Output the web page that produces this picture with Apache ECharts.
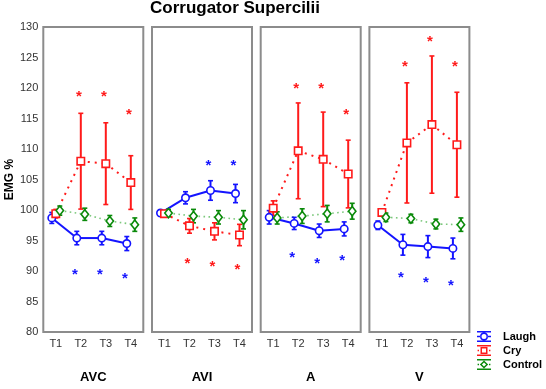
<!DOCTYPE html>
<html><head><meta charset="utf-8">
<script src="https://cdn.jsdelivr.net/npm/echarts@6/dist/echarts.min.js"></script>
<style>html,body{margin:0;padding:0;background:#fff}#c{width:546px;height:389px}</style>
</head><body><div id="c"></div>
<script>
// ---------- data ----------
const panels = ['AVC', 'AVI', 'A', 'V'];
const timepoints = ['T1', 'T2', 'T3', 'T4'];
const yTickMin = 80, yTickMax = 130, yTickStep = 5;
const groupNames = ['Laugh', 'Cry', 'Control'];

// means per panel (AVC, AVI, A, V) x timepoint (T1..T4)
const laughMean = [[98.7, 95.4, 95.4, 94.5], [99.5, 102.0, 103.2, 102.7], [98.8, 97.8, 96.6, 96.9], [97.5, 94.3, 94.0, 93.7]];
const laughErr  = [[0.9, 1.1, 1.1, 1.15], [0.5, 1.0, 1.6, 1.5], [1.1, 1.0, 1.1, 1.15], [0.7, 1.7, 1.8, 1.7]];
const cryMean   = [[99.4, 108.0, 107.6, 104.5], [99.4, 97.4, 96.5, 95.9], [100.3, 109.7, 108.3, 105.9], [99.6, 111.0, 114.0, 110.7]];
const cryErr    = [[0.7, 7.85, 6.7, 4.4], [0.5, 1.2, 1.4, 1.75], [1.2, 7.85, 7.75, 5.55], [0.6, 9.85, 11.25, 8.6]];
const controlMean = [[99.9, 99.3, 98.2, 97.6], [99.5, 99.0, 98.8, 98.4], [98.7, 99.0, 99.4, 99.8], [98.8, 98.6, 97.7, 97.6]];
const controlErr  = [[0.75, 1.0, 0.9, 1.1], [0.6, 1.1, 1.1, 1.5], [1.0, 1.2, 1.35, 1.3], [0.7, 0.7, 0.8, 1.1]];

// significance asterisk positions (value level), null = none
const laughStars = [[null, 89.8, 89.8, 89.2], [null, null, 107.7, 107.7], [null, 92.6, 91.7, 92.2], [null, 89.4, 88.6, 88.1]];
const cryStars   = [[null, 119.1, 119.1, 116.1], [null, 91.7, 91.2, 90.6], [null, 120.3, 120.3, 116.1], [null, 123.9, 128.0, 123.9]];

// ---------- styles ----------
const FONT = '"Liberation Sans", Arial, Helvetica, sans-serif';
const BLUE = '#1414ff', RED = '#ff1a1a', GREEN = '#0a8a0a';
const styles = {
  Laugh:   { color: BLUE,  lineColor: BLUE, lineWidth: 2, lineDash: null, offset: -4, marker: 'circle' },
  Cry:     { color: RED,   lineColor: RED, lineWidth: 2, lineDash: [2, 5], offset: 0, marker: 'square' },
  Control: { color: GREEN, lineColor: '#7cc87c', lineWidth: 1.6, lineDash: [1.6, 3.4], offset: 4, marker: 'diamond' }
};
const starStyles = { Laugh: { color: BLUE, offset: -6 }, Cry: { color: RED, offset: -2 } };

const gridLeft0 = 43.3, gridStep = 108.7, gridW = 100, gridTop = 27, gridH = 309;

const meansBy = { Laugh: laughMean, Cry: cryMean, Control: controlMean };
const errsBy = { Laugh: laughErr, Cry: cryErr, Control: controlErr };
const starsBy = { Laugh: laughStars, Cry: cryStars };

function markerShape(kind, cx, cy, color) {
  const st = { fill: '#fff', stroke: color, lineWidth: 1.6 };
  if (kind === 'circle') return { type: 'circle', shape: { cx, cy, r: 3.7 }, style: st, z2: 10 };
  if (kind === 'square') return { type: 'rect', shape: { x: cx - 3.7, y: cy - 3.7, width: 7.4, height: 7.4 }, style: st, z2: 10 };
  return { type: 'polygon', shape: { points: [[cx, cy - 4.6], [cx + 3.7, cy], [cx, cy + 4.6], [cx - 3.7, cy]] }, style: st, z2: 10 };
}

function groupSeries(name, k) {
  const s = styles[name];
  const means = meansBy[name][k];
  const errs = errsBy[name][k];
  return {
    type: 'custom', name, coordinateSystem: 'cartesian2d',
    xAxisIndex: k, yAxisIndex: k,
    itemStyle: { color: s.color },
    encode: { x: 0, y: 1 },
    data: timepoints.map((t, i) => [i, means[i], errs[i]]),
    renderItem(params, api) {
      const idx = params.dataIndex;
      const xi = api.value(0), m = api.value(1), e = api.value(2);
      const c = api.coord([xi, m]);
      const cx = c[0] + s.offset, cy = c[1];
      const yt = api.coord([xi, m + e])[1], yb = api.coord([xi, m - e])[1];
      const children = [];
      if (idx < means.length - 1) {
        const n = api.coord([xi + 1, means[idx + 1]]);
        children.push({ type: 'line', shape: { x1: cx, y1: cy, x2: n[0] + s.offset, y2: n[1] },
          style: { stroke: s.lineColor, lineWidth: s.lineWidth, lineDash: s.lineDash }, z2: 1 });
      }
      children.push({ type: 'line', shape: { x1: cx, y1: yt, x2: cx, y2: yb }, style: { stroke: s.color, lineWidth: 2 }, z2: 5 });
      children.push({ type: 'line', shape: { x1: cx - 2.5, y1: yt, x2: cx + 2.5, y2: yt }, style: { stroke: s.color, lineWidth: 1.6 }, z2: 5 });
      children.push({ type: 'line', shape: { x1: cx - 2.5, y1: yb, x2: cx + 2.5, y2: yb }, style: { stroke: s.color, lineWidth: 1.6 }, z2: 5 });
      children.push(markerShape(s.marker, cx, cy, s.color));
      return { type: 'group', children };
    }
  };
}

function starSeries(name, k) {
  const s = starStyles[name];
  const vals = starsBy[name][k];
  return {
    type: 'custom', name, coordinateSystem: 'cartesian2d',
    xAxisIndex: k, yAxisIndex: k, itemStyle: { color: s.color },
    encode: { x: 0, y: 1 },
    data: vals.map((v, i) => (v == null ? null : [i, v])).filter(d => d),
    renderItem(params, api) {
      const c = api.coord([api.value(0), api.value(1)]);
      return { type: 'text', x: c[0] + s.offset, y: c[1] + 3,
        style: { text: '*', fill: s.color, font: 'bold 15px ' + FONT, align: 'center', verticalAlign: 'middle' } };
    }
  };
}

const grids = [], xAxes = [], yAxes = [], series = [];
panels.forEach((p, k) => {
  grids.push({ left: gridLeft0 + k * gridStep, top: gridTop, width: gridW, height: gridH,
    show: true, borderColor: '#8c8c8c', borderWidth: 2, backgroundColor: '#fff' });
  xAxes.push({ type: 'category', gridIndex: k, data: timepoints, boundaryGap: true,
    axisLine: { show: false }, axisTick: { show: false }, splitLine: { show: false },
    axisLabel: { fontSize: 11, color: '#333', margin: 6, fontFamily: FONT },
    name: p, nameLocation: 'middle', nameGap: 39,
    nameTextStyle: { fontSize: 13, fontWeight: 'bold', color: '#000', fontFamily: FONT } });
  yAxes.push({ type: 'value', gridIndex: k, min: yTickMin, max: yTickMax, interval: yTickStep,
    axisLine: { show: false }, axisTick: { show: false }, splitLine: { show: false },
    axisLabel: { show: k === 0, fontSize: 11, color: '#333', margin: 5, fontFamily: FONT },
    name: k === 0 ? 'EMG %' : '', nameLocation: 'middle', nameGap: 28, nameRotate: 90,
    nameTextStyle: { fontSize: 12, fontWeight: 'bold', color: '#000', fontFamily: FONT } });
  groupNames.forEach(g => series.push(groupSeries(g, k)));
  ['Laugh', 'Cry'].forEach(g => series.push(starSeries(g, k)));
});

const iconLaugh = 'path://M0,0H14V1.6H0Z M0,9.4H14V11H0Z M0,4.7H3.2V6.3H0Z M10.8,4.7H14V6.3H10.8Z M3,5.5A4,4 0 1 0 11,5.5A4,4 0 1 0 3,5.5Z M4.5,5.5A2.5,2.5 0 1 1 9.5,5.5A2.5,2.5 0 1 1 4.5,5.5Z';
const iconCry = 'path://M0,0H14V1.6H0Z M0,9.4H14V11H0Z M0.6,4.7H2V6.3H0.6Z M12,4.7H13.4V6.3H12Z M3.5,2H10.5V9H3.5Z M5,3.5V7.5H9V3.5Z';
const iconControl = 'path://M0,0H14V1.6H0Z M0,9.4H14V11H0Z M0.6,4.7H2V6.3H0.6Z M12,4.7H13.4V6.3H12Z M7,1.6L11.2,5.5L7,9.4L2.8,5.5Z M7,3.5L4.9,5.5L7,7.5L9.1,5.5Z';

const option = {
  animation: false,
  backgroundColor: '#fff',
  title: { text: 'Corrugator Supercilii', left: 150, top: 0, padding: 0,
    textStyle: { fontSize: 17, fontWeight: 'bold', color: '#000', fontFamily: FONT } },
  legend: { orient: 'vertical', left: 477, top: 331, padding: 0, itemWidth: 14, itemHeight: 11, itemGap: 3,
    textStyle: { fontSize: 11, fontWeight: 'bold', color: '#000', fontFamily: FONT, padding: [0, 0, 0, 7] },
    data: [
      { name: 'Laugh', icon: iconLaugh, itemStyle: { color: BLUE } },
      { name: 'Cry', icon: iconCry, itemStyle: { color: RED } },
      { name: 'Control', icon: iconControl, itemStyle: { color: GREEN } }
    ] },
  grid: grids, xAxis: xAxes, yAxis: yAxes, series
};
const chart = echarts.init(document.getElementById('c'), null, { renderer: 'canvas' });
chart.setOption(option);
</script></body></html>
